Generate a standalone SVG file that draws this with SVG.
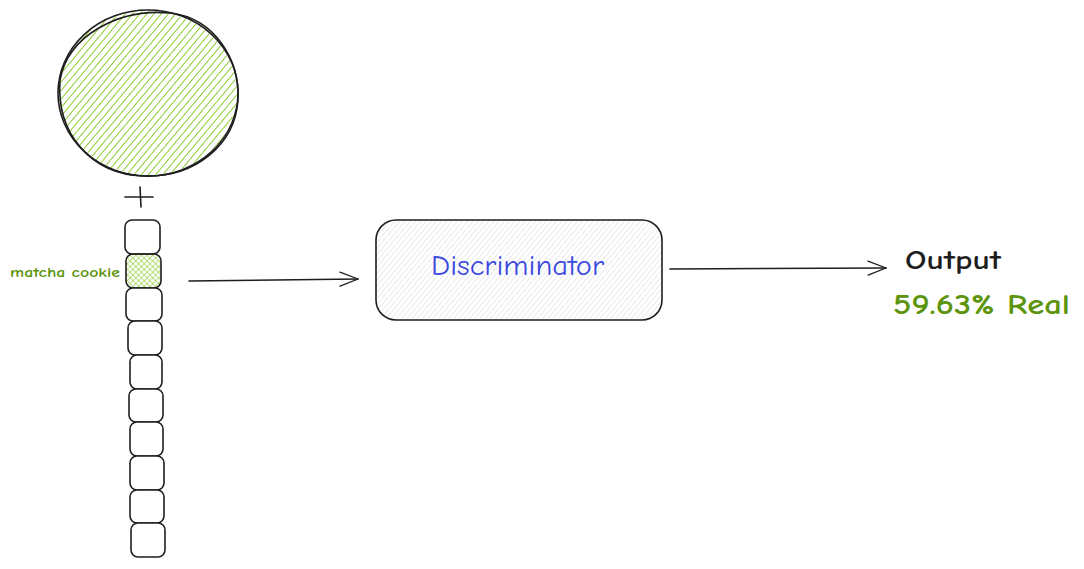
<svg xmlns="http://www.w3.org/2000/svg" width="1084" height="569" viewBox="0 0 1084 569">
<style>
.s{fill:none;stroke:#1e1e1e;stroke-width:1.6;stroke-linecap:round;stroke-linejoin:round}
.box{fill:#fff;stroke:#1e1e1e;stroke-width:1.6}
.t{font-family:"Comic Neue","Liberation Sans",sans-serif}
</style>
<defs>
<pattern id="hg" patternUnits="userSpaceOnUse" width="5.5" height="5.5" patternTransform="rotate(40)">
<line x1="0" y1="0" x2="0" y2="5.5" stroke="#82c91e" stroke-width="1.8"/>
</pattern>
<pattern id="hx" patternUnits="userSpaceOnUse" width="4" height="4" patternTransform="rotate(45)">
<line x1="0" y1="0" x2="0" y2="4" stroke="#82c91e" stroke-width="1.1"/>
<line x1="0" y1="0" x2="4" y2="0" stroke="#82c91e" stroke-width="1.1"/>
</pattern>
<pattern id="hgr" patternUnits="userSpaceOnUse" width="4" height="4" patternTransform="rotate(40)">
<line x1="0" y1="0" x2="0" y2="4" stroke="#d5d9de" stroke-width="1.1"/>
</pattern>
<marker id="ah" viewBox="0 0 20 20" refX="19" refY="10" markerWidth="20" markerHeight="20" markerUnits="userSpaceOnUse" orient="auto">
<path d="M1,3 L19,10 L1,17" fill="none" stroke="#1e1e1e" stroke-width="1.3" stroke-linecap="round"/>
</marker>
</defs>
<g id="circle">
<ellipse cx="148" cy="93" rx="89" ry="82" fill="url(#hg)"/>
<ellipse cx="148" cy="93" rx="90" ry="83" class="s"/>
<path d="M60,80 C68,35 120,8 170,13 C215,18 240,60 238,100 C235,145 195,178 143,176 C92,174 56,135 60,80" class="s"/>
</g>
<g id="plus">
<path d="M125,197 L153,197 M140,187 L141,207" class="s"/>
</g>
<g id="tokens">
<rect class="box" x="125" y="220" width="35" height="34" rx="7"/>
<rect x="126" y="254" width="35" height="34" rx="7" fill="url(#hx)" stroke="#1e1e1e" stroke-width="1.6"/>
<rect class="box" x="126" y="288" width="36" height="33" rx="7"/>
<rect class="box" x="128" y="321" width="34" height="34" rx="7"/>
<rect class="box" x="130" y="355" width="32" height="34" rx="7"/>
<rect class="box" x="129" y="389" width="34" height="33" rx="7"/>
<rect class="box" x="130" y="422" width="33" height="34" rx="7"/>
<rect class="box" x="130" y="456" width="34" height="34" rx="7"/>
<rect class="box" x="130" y="490" width="34" height="33" rx="7"/>
<rect class="box" x="131" y="523" width="34" height="34" rx="7"/>
</g>
<g id="label-matcha">
<text class="t" x="10" y="277" font-size="13" font-weight="bold" fill="#5c940d" textLength="110" lengthAdjust="spacingAndGlyphs">matcha cookie</text>
</g>
<g id="discriminator">
<rect x="376" y="220" width="286" height="100" rx="20" fill="url(#hgr)" stroke="#1e1e1e" stroke-width="1.6"/>
<text class="t" x="431" y="275" font-size="28" fill="#3b49df" textLength="173" lengthAdjust="spacingAndGlyphs">Discriminator</text>
</g>
<g id="output">
<text class="t" x="905" y="269" font-size="27" font-weight="bold" fill="#1e1e1e" textLength="96" lengthAdjust="spacingAndGlyphs">Output</text>
<text class="t" x="893" y="314" font-size="29" font-weight="bold" fill="#5c940d" textLength="177" lengthAdjust="spacingAndGlyphs">59.63% Real</text>
</g>
<g id="connectors">
<path d="M189,281 L358,279" class="s" marker-end="url(#ah)"/>
<path d="M670,269 L886,268" class="s" marker-end="url(#ah)"/>
</g>
</svg>
